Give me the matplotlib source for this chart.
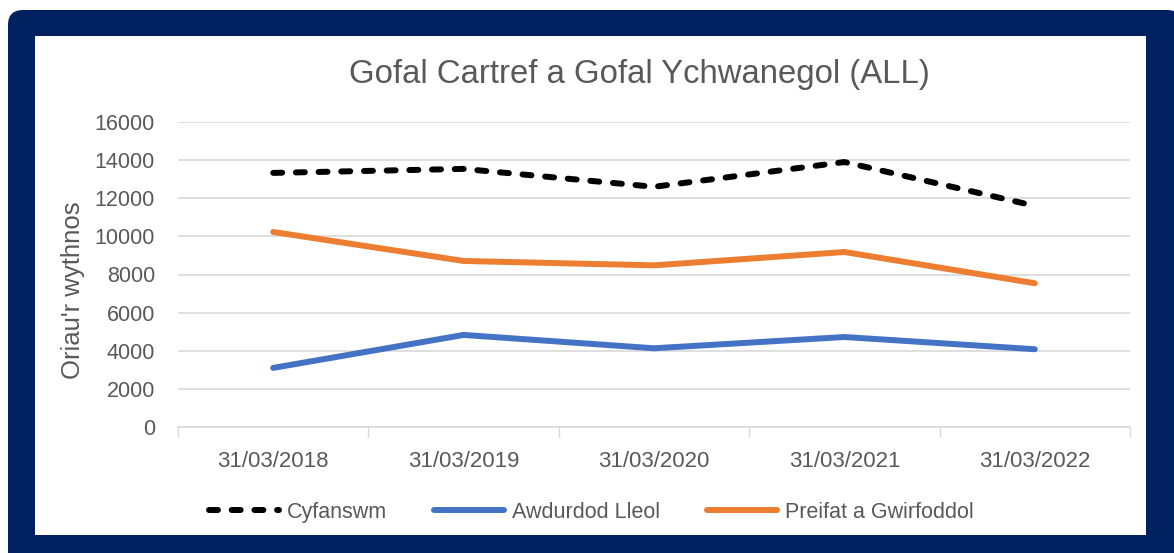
import matplotlib.pyplot as plt
from matplotlib.patches import FancyBboxPatch, Rectangle

dates = ['31/03/2018', '31/03/2019', '31/03/2020', '31/03/2021', '31/03/2022']
cyfanswm = [13330, 13540, 12600, 13900, 11600]
awdurdod_lleol = [3100, 4830, 4130, 4720, 4080]
preifat = [10230, 8710, 8480, 9180, 7540]

W, H = 1174, 553
plt.rcParams['font.family'] = ['Liberation Sans', 'DejaVu Sans']
grey = '#595959'
navy = '#002060'

fig = plt.figure(figsize=(W / 100, H / 100), dpi=100)

# navy frame with rounded corners, white panel inside (inch coordinates)
frame = FancyBboxPatch((0.08, -0.3), W / 100, H / 100 + 0.2,
                       boxstyle='round,pad=0,rounding_size=0.15',
                       transform=fig.dpi_scale_trans, facecolor=navy,
                       edgecolor='none', zorder=-2)
fig.patches.append(frame)
panel = Rectangle((0.35, (H - 535) / 100), (1146 - 35) / 100, (535 - 36) / 100,
                  transform=fig.dpi_scale_trans, facecolor='white',
                  edgecolor='none', zorder=-1)
fig.patches.append(panel)

ax = fig.add_axes([178 / W, 1 - 427 / H, (1130 - 178) / W, (427 - 122) / H])
ax.set_facecolor('none')
x = range(len(dates))

ax.plot(x, cyfanswm, color='black', lw=4.3, dashes=(1.5, 2.3),
        dash_capstyle='round', label='Cyfanswm')
ax.plot(x, awdurdod_lleol, color='#4472C4', lw=4.3, solid_capstyle='round',
        label='Awdurdod Lleol')
ax.plot(x, preifat, color='#ED7D31', lw=4.3, solid_capstyle='round',
        label='Preifat a Gwirfoddol')

ax.set_xlim(-0.5, len(dates) - 0.5)
ax.set_ylim(0, 16000)
ax.set_yticks(range(0, 16001, 2000))
ax.set_xticks(list(x))
ax.set_xticklabels(dates)
ax.set_xticks([i - 0.5 for i in range(len(dates) + 1)], minor=True)
ax.tick_params(axis='x', which='major', length=0, pad=17, labelsize=16, labelcolor=grey)
ax.tick_params(axis='x', which='minor', length=7, color='#d9d9d9', width=1)
ax.tick_params(axis='y', length=0, pad=16.5, labelsize=15.5, labelcolor=grey)
ax.grid(axis='y', color='#d9d9d9', lw=1.2)
ax.set_axisbelow(True)
for s in ['top', 'right', 'left']:
    ax.spines[s].set_visible(False)
ax.spines['bottom'].set_color('#d9d9d9')
ax.spines['bottom'].set_linewidth(1.2)

ax.set_ylabel("Oriau'r wythnos", fontsize=18.5, color=grey)
ax.yaxis.set_label_coords((85 - 178) / 952, 0.45)
fig.text(0.545, 1 - 75 / H, 'Gofal Cartref a Gofal Ychwanegol (ALL)',
         ha='center', va='center', fontsize=23.7, color=grey)

ax.legend(loc='center', bbox_to_anchor=(0.434, -0.279), ncol=3, frameon=False,
          fontsize=15.5, labelcolor=grey, handlelength=3.25, columnspacing=2.2,
          handletextpad=0.35)

fig.savefig('out.png', dpi=100)
